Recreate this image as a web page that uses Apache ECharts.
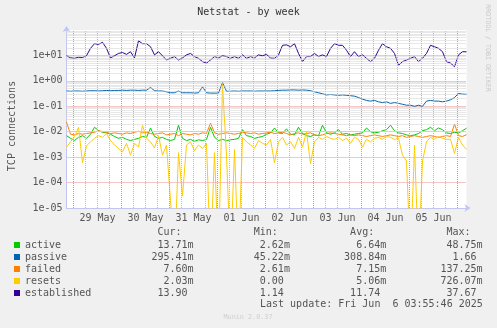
<!DOCTYPE html>
<html>
<head>
<meta charset="utf-8">
<script src="https://cdn.jsdelivr.net/npm/echarts@6/dist/echarts.min.js"></script>
<style>
  html, body { margin: 0; padding: 0; background: #F0F0F0; }
  #chart { width: 497px; height: 328px; }
</style>
</head>
<body>
<div id="chart"></div>
<script>
// Samples every 2 hours, first one at 28 May 20:30 (hours counted from 28 May 00:00)
const START_HOUR = 20.5;
const STEP_HOURS = 2;

const dayLabels = ['29 May', '30 May', '31 May', '01 Jun', '02 Jun', '03 Jun', '04 Jun', '05 Jun'];
const yTickLabels = ['1e-05', '1e-04', '1e-03', '1e-02', '1e-01', '1e+00', '1e+01'];

const seriesNames = ['active', 'passive', 'failed', 'resets', 'established'];
const seriesColors = ['#00CC00', '#0066B3', '#FF8000', '#FFCC00', '#330099'];

const active = [
  0.007, 0.0055, 0.0045, 0.006, 0.007, 0.0055, 0.008, 0.015, 0.011, 0.0095,
  0.009, 0.008, 0.0065, 0.0055, 0.006, 0.005, 0.0045, 0.005, 0.0055, 0.0065,
  0.006, 0.014, 0.0065, 0.0055, 0.006, 0.005, 0.0045, 0.005, 0.018, 0.0055,
  0.0045, 0.005, 0.0042, 0.0048, 0.0045, 0.005, 0.015, 0.006, 0.0045, 0.005,
  0.0045, 0.0048, 0.005, 0.0055, 0.012, 0.007, 0.0065, 0.0055, 0.006, 0.0065,
  0.008, 0.009, 0.014, 0.009, 0.0085, 0.013, 0.008, 0.0075, 0.015, 0.0085,
  0.007, 0.0065, 0.0075, 0.007, 0.018, 0.009, 0.008, 0.009, 0.012, 0.008,
  0.0085, 0.0075, 0.008, 0.0085, 0.009, 0.014, 0.01, 0.009, 0.0095, 0.011,
  0.012, 0.018, 0.011, 0.009, 0.0085, 0.0075, 0.007, 0.0075, 0.0085, 0.011,
  0.012, 0.015, 0.011, 0.014, 0.012, 0.009, 0.0085, 0.0095, 0.009, 0.011,
  0.01371
];

const passive = [
  0.40, 0.39, 0.40, 0.40, 0.39, 0.40, 0.41, 0.41, 0.40, 0.41,
  0.42, 0.41, 0.42, 0.42, 0.43, 0.42, 0.43, 0.43, 0.42, 0.43,
  0.43, 0.55, 0.41, 0.40, 0.40, 0.37, 0.34, 0.34, 0.40, 0.34,
  0.34, 0.34, 0.33, 0.34, 0.58, 0.34, 0.33, 0.33, 0.33, 0.86,
  0.39, 0.39, 0.40, 0.39, 0.40, 0.40, 0.40, 0.39, 0.40, 0.40,
  0.40, 0.40, 0.41, 0.42, 0.43, 0.43, 0.44, 0.44, 0.43, 0.44,
  0.43, 0.41, 0.37, 0.34, 0.31, 0.28, 0.29, 0.28, 0.27, 0.28,
  0.27, 0.26, 0.25, 0.22, 0.19, 0.17, 0.16, 0.17, 0.15, 0.14,
  0.15, 0.13, 0.14, 0.13, 0.12, 0.11, 0.11, 0.10, 0.11, 0.10,
  0.16, 0.17, 0.16, 0.16, 0.15, 0.16, 0.18, 0.22, 0.32, 0.30,
  0.29541
];

const failed = [
  0.024, 0.008, 0.0075, 0.0085, 0.008, 0.0085, 0.009, 0.0095, 0.011, 0.010,
  0.0095, 0.0085, 0.009, 0.0085, 0.008, 0.009, 0.0085, 0.0095, 0.0105, 0.009,
  0.0095, 0.0085, 0.008, 0.0085, 0.009, 0.0075, 0.008, 0.0085, 0.007, 0.0085,
  0.008, 0.0075, 0.0085, 0.008, 0.009, 0.0085, 0.022, 0.009, 0.008, 0.0085,
  0.009, 0.0085, 0.008, 0.0085, 0.0095, 0.009, 0.0085, 0.009, 0.008, 0.0085,
  0.009, 0.0095, 0.0085, 0.009, 0.0095, 0.0085, 0.0075, 0.0085, 0.009, 0.008,
  0.0085, 0.009, 0.0075, 0.007, 0.0075, 0.0085, 0.009, 0.0085, 0.008, 0.0075,
  0.007, 0.0075, 0.007, 0.0075, 0.007, 0.0065, 0.007, 0.0075, 0.007, 0.0065,
  0.007, 0.0075, 0.007, 0.0065, 0.007, 0.006, 0.0065, 0.007, 0.0065, 0.006,
  0.0065, 0.007, 0.0065, 0.006, 0.0065, 0.007, 0.0065, 0.020, 0.007, 0.0065,
  0.0076
];

const resets = [
  0.0025, 0.004, 0.0065, 0.015, 0.0006, 0.0028, 0.004, 0.0055, 0.007, 0.006,
  0.0085, 0.0045, 0.003, 0.0022, 0.0016, 0.0035, 0.0012, 0.0035, 0.0025, 0.018,
  0.0055, 0.004, 0.0023, 0.007, 0.0012, 0.003, 0.00002, 0, 0.0015, 0.00003,
  0.003, 0.004, 0.0018, 0.003, 0.0022, 0.0035, 0, 0.0015, 0, 0.726,
  0.0012, 0, 0.002, 0, 0.006, 0.004, 0.003, 0.0022, 0.0045, 0.0035,
  0.003, 0.005, 0.0006, 0.004, 0.006, 0.003, 0.004, 0.0022, 0.006, 0.0025,
  0.01, 0.00055, 0.004, 0.006, 0.005, 0.0065, 0.0055, 0.005, 0.006, 0.0045,
  0.0055, 0.0035, 0.006, 0.005, 0.0025, 0.005, 0.004, 0.0055, 0.006, 0.005,
  0.0065, 0.006, 0.005, 0.0055, 0.0012, 0.0007, 0, 0.003, 0, 0.0007,
  0.004, 0.006, 0.005, 0.0065, 0.0055, 0.005, 0.005, 0.0014, 0.006, 0.003,
  0.00203
];

const established = [
  9.7, 8.1, 7.7, 8.5, 8.3, 9.8, 19, 29, 27, 33,
  19, 8, 9.7, 12, 13, 11, 14, 8, 37.67, 29,
  29, 22, 10.5, 14, 9.7, 6.6, 7.7, 9, 6.6, 8,
  10.5, 12, 9, 7.7, 5.7, 5, 6.6, 9, 8, 9.7,
  9, 7.7, 9, 7.7, 10.5, 7.7, 9, 8, 10.5, 9.7,
  11, 7.9, 7.7, 10.5, 25, 26, 22, 29, 12, 5.7,
  9, 9, 12, 9, 10.5, 9, 19, 29, 25, 25,
  16, 9, 14, 9, 10.5, 7.7, 5.7, 7.7, 16, 29,
  22, 19, 12, 4.1, 5.7, 6.6, 7.7, 9, 5.7, 7.7,
  12, 25, 22, 19, 14, 5.7, 5, 3.6, 10.5, 14,
  13.90
];

// Legend statistics
const curVals = [0.01371, 0.29541, 0.00760, 0.00203, 13.90];
const minVals = [0.00262, 0.04522, 0.00261, 0, 1.14];
const avgVals = [0.00664, 0.30884, 0.00715, 0.00506, 11.74];
const maxVals = [0.04875, 1.66, 0.13725, 0.72607, 37.67];

const lastUpdate = 'Last update: Fri Jun  6 03:55:46 2025';

const MONO = '"DejaVu Sans Mono", monospace';
const X_MIN = 20.5, X_MAX = 220.5;
const LOG_FLOOR = 1e-7; // zero cannot sit on a log scale; drop it below the axis floor

function toPoints(values) {
  return values.map((v, i) => [START_HOUR + i * STEP_HOURS, v > 0 ? v : LOG_FLOOR]);
}

function fmt(v) {
  if (v !== 0 && Math.abs(v) < 1) return (Math.round(v * 1e5) / 100).toFixed(2) + 'm';
  return (Math.round(v * 100) / 100).toFixed(2) + ' ';
}

const dataSets = [active, passive, failed, resets, established];

// Grid: vertical every 6 hours (midnight in red), horizontal minor at 2..9 per decade
const gridLines = [];
for (let h = 24; h < X_MAX; h += 6) {
  const major = h % 24 === 0;
  gridLines.push({
    xAxis: h,
    lineStyle: { color: major ? '#EC8C8C' : '#B8B8B8', type: [1, 1], width: 1 }
  });
}
for (let d = -5; d <= 1; d++) {
  for (let m = 2; m <= 9; m++) {
    gridLines.push({
      yAxis: m * Math.pow(10, d),
      lineStyle: { color: '#D0D0D0', type: [1, 1], width: 1 }
    });
  }
}

const series = [{
  name: '_grid',
  type: 'line',
  data: [],
  z: 1,
  silent: true,
  markLine: {
    silent: true,
    symbol: ['none', 'none'],
    animation: false,
    label: { show: false },
    emphasis: { disabled: true },
    data: gridLines
  }
}];
seriesNames.forEach((name, i) => {
  series.push({
    name,
    type: 'line',
    data: toPoints(dataSets[i]),
    showSymbol: false,
    symbol: 'none',
    clip: true,
    z: 3,
    color: seriesColors[i],
    lineStyle: { width: 1, color: seriesColors[i] },
    emphasis: { disabled: true }
  });
});

const header = ' '.repeat(22) + 'Cur:' + ' '.repeat(12) + 'Min:' + ' '.repeat(12) + 'Avg:' + ' '.repeat(12) + 'Max:';

const chart = echarts.init(document.getElementById('chart'), null, { renderer: 'canvas' });
chart.setOption({
  backgroundColor: '#F0F0F0',
  animation: false,
  textStyle: { fontFamily: MONO },
  title: {
    text: 'Netstat - by week',
    left: 'center',
    top: 7,
    padding: 0,
    textStyle: { fontFamily: MONO, fontSize: 10, fontWeight: 'normal', color: '#333' }
  },
  grid: {
    left: 66.5, top: 30, width: 400, height: 178,
    show: true, backgroundColor: '#FFFFFF', borderWidth: 0
  },
  xAxis: {
    type: 'value',
    min: X_MIN,
    max: X_MAX,
    interval: 0.5,
    splitLine: { show: false },
    axisTick: { show: false },
    axisLine: {
      show: true, onZero: false,
      lineStyle: { color: '#C4C6F2', width: 1 },
      symbol: ['none', 'arrow'], symbolSize: [6, 6], symbolOffset: [0, 4]
    },
    axisLabel: {
      interval: 0,
      margin: 5,
      fontFamily: MONO, fontSize: 10, color: '#555',
      formatter: (v) => {
        const h = Math.round(v * 2) / 2;
        if (h % 24 !== 12) return '';
        const k = (h - 36) / 24;
        return dayLabels[k] || '';
      }
    }
  },
  yAxis: {
    type: 'log',
    logBase: 10,
    min: 1e-5,
    max: 100,
    axisTick: { show: false },
    splitLine: {
      show: true, showMinLine: false, showMaxLine: false,
      lineStyle: { color: '#EC8C8C', type: [1, 1], width: 1 }
    },
    axisLine: {
      show: true,
      lineStyle: { color: '#C4C6F2', width: 1 },
      symbol: ['none', 'arrow'], symbolSize: [6, 6], symbolOffset: [0, 4]
    },
    axisLabel: {
      margin: 4,
      fontFamily: MONO, fontSize: 10, color: '#555',
      formatter: (v) => {
        const e = Math.round(Math.log10(v));
        return yTickLabels[e + 5] || '';
      }
    }
  },
  legend: {
    orient: 'vertical',
    left: 14,
    top: 239,
    padding: 0,
    itemWidth: 6,
    itemHeight: 6,
    itemGap: 0,
    icon: 'rect',
    selectedMode: false,
    data: seriesNames,
    textStyle: { fontFamily: MONO, fontSize: 10, color: '#555', lineHeight: 12 },
    formatter: (name) => {
      const i = seriesNames.indexOf(name);
      return name.padEnd(16) + fmt(curVals[i]).padStart(12) + fmt(minVals[i]).padStart(16) +
        fmt(avgVals[i]).padStart(16) + fmt(maxVals[i]).padStart(16);
    }
  },
  graphic: [
    {
      type: 'text', x: 12, y: 126, rotation: Math.PI / 2, silent: true,
      style: { text: 'TCP connections', font: '10px ' + MONO, fill: '#555', align: 'center', verticalAlign: 'middle' }
    },
    {
      type: 'text', x: 488, y: 48, rotation: -Math.PI / 2, silent: true,
      style: { text: 'RRDTOOL / TOBI OETIKER', font: '6.6px ' + MONO, fill: '#C8C8C8', align: 'center', verticalAlign: 'middle' }
    },
    {
      type: 'text', x: 25, y: 232, silent: true,
      style: { text: header, font: '10px ' + MONO, fill: '#555', align: 'left', verticalAlign: 'middle' }
    },
    {
      type: 'text', x: 260, y: 304, silent: true,
      style: { text: lastUpdate, font: '10px ' + MONO, fill: '#555', align: 'left', verticalAlign: 'middle' }
    },
    {
      type: 'text', x: 248, y: 317, silent: true,
      style: { text: 'Munin 2.0.37', font: '6.8px ' + MONO, fill: '#CFCFCF', align: 'center', verticalAlign: 'middle' }
    }
  ],
  series
});
</script>
</body>
</html>
